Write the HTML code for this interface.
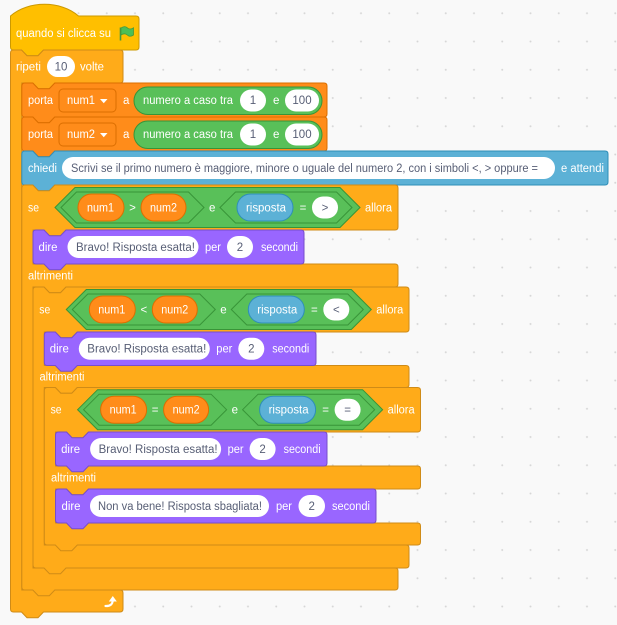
<!DOCTYPE html>
<html>
<head>
<meta charset="utf-8">
<style>
  html,body{margin:0;padding:0;background:#F9F9F9;}
  svg{display:block;}
  text{font-family:"Liberation Sans",Arial,sans-serif;font-size:11.5px;}
  .w{fill:#ffffff;}
  .g{fill:#575E75;}
  .ctl{fill:#FFAB19;stroke:#CF8B17;stroke-width:1;}
  .var{fill:#FF8C1A;stroke:#DB6E00;stroke-width:1;}
  .op{fill:#59C059;stroke:#389438;stroke-width:1;}
  .sen{fill:#5CB1D6;stroke:#2E8EB8;stroke-width:1;}
  .lk{fill:#9966FF;stroke:#774DCB;stroke-width:1;}
  .inp{fill:#ffffff;}
</style>
</head>
<body>
<svg width="617" height="625" viewBox="0 0 617 625" xmlns="http://www.w3.org/2000/svg">
  <defs>
    <pattern id="grid" x="0" y="0" width="28.25" height="28.25" patternUnits="userSpaceOnUse">
      <circle cx="22" cy="13.3" r="1" fill="#D6D6D6"/>
    </pattern>
  </defs>
  <rect x="0" y="0" width="617" height="625" fill="#F9F9F9"/>
  <rect x="0" y="0" width="617" height="625" fill="url(#grid)"/>

  <!-- HAT -->
  <path d="M10.5,16 C28.2,0.4 60.8,0.4 78.5,16 L136,16 Q139,16 139,19 L139,47 Q139,50 136,50 L43.5,50 L38,55.7 L27,55.7 L21.5,50 L13.5,50 Q10.5,50 10.5,47 Z" fill="#FFBF00" stroke="#CC9900" stroke-width="1"/>
  <text class="w" x="16" y="37" textLength="95" lengthAdjust="spacingAndGlyphs">quando si clicca su</text>
  <path d="M120.5,40.5 L120.5,27.5" stroke="#45993D" stroke-width="1.6" fill="none"/>
  <path d="M121,28 C123.5,26.3 125.8,26.3 127.3,27.8 C128.8,29.3 131.2,29.3 133.5,27.8 L133.5,35 C131.2,36.5 128.8,36.5 127.3,35 C125.8,33.5 123.5,33.5 121,35 Z" fill="#4CBF56" stroke="#45993D" stroke-width="0.8"/>

  <!-- REPEAT -->
  <path class="ctl" d="M10.5,53 Q10.5,50 13.5,50 L21.5,50 L27,55.7 L38,55.7 L43.5,50 L120,50 Q123,50 123,53 L123,80 Q123,83 120,83 L54.8,83 L49.3,88.7 L38.3,88.7 L32.8,83 L21.8,83 L21.8,590 L120,590 Q123,590 123,593 L123,609 Q123,612 120,612 L43.5,612 L38,617.7 L27,617.7 L21.5,612 L13.5,612 Q10.5,612 10.5,609 Z"/>
  <text class="w" x="16" y="70.5" textLength="25" lengthAdjust="spacingAndGlyphs">ripeti</text>
  <rect class="inp" x="47" y="56" width="28" height="21" rx="10.5"/>
  <text class="g" x="61" y="70.5" text-anchor="middle">10</text>
  <text class="w" x="80" y="70.5" textLength="24" lengthAdjust="spacingAndGlyphs">volte</text>
  <!-- loop arrow -->
  <path d="M105.5,606 Q112.5,606.5 112.8,600" fill="none" stroke="#ffffff" stroke-width="2.2" stroke-linecap="round"/>
  <path d="M108.8,601.5 L116.8,601.5 L112.8,596 Z" fill="#ffffff"/>

  <!-- PORTA 1 -->
  <path class="var" d="M21.8,86 Q21.8,83 24.8,83 L32.8,83 L38.3,88.7 L49.3,88.7 L54.8,83 L324,83 Q327,83 327,86 L327,114 Q327,117 324,117 L54.8,117 L49.3,122.7 L38.3,122.7 L32.8,117 L24.8,117 Q21.8,117 21.8,114 Z"/>
  <text class="w" x="28" y="104" textLength="25" lengthAdjust="spacingAndGlyphs">porta</text>
  <rect x="59" y="89" width="57" height="23" rx="4" fill="#FF8C1A" stroke="#DB6E00"/>
  <text class="w" x="67" y="104" textLength="28" lengthAdjust="spacingAndGlyphs">num1</text>
  <path d="M100,99 L107.5,99 L103.75,103.2 Z" fill="#ffffff"/>
  <text class="w" x="123" y="104">a</text>
  <rect class="op" x="134" y="87" width="188" height="27.5" rx="13.75"/>
  <text class="w" x="143" y="104" textLength="90" lengthAdjust="spacingAndGlyphs">numero a caso tra</text>
  <rect class="inp" x="240" y="89.5" width="26" height="22" rx="11"/>
  <text class="g" x="253" y="104" text-anchor="middle">1</text>
  <text class="w" x="273" y="104">e</text>
  <rect class="inp" x="285" y="89.5" width="34" height="22" rx="11"/>
  <text class="g" x="302" y="104" text-anchor="middle">100</text>

  <!-- PORTA 2 -->
  <path class="var" d="M21.8,120 Q21.8,117 24.8,117 L32.8,117 L38.3,122.7 L49.3,122.7 L54.8,117 L324,117 Q327,117 327,120 L327,148 Q327,151 324,151 L54.8,151 L49.3,156.7 L38.3,156.7 L32.8,151 L24.8,151 Q21.8,151 21.8,148 Z"/>
  <text class="w" x="28" y="138" textLength="25" lengthAdjust="spacingAndGlyphs">porta</text>
  <rect x="59" y="123" width="57" height="23" rx="4" fill="#FF8C1A" stroke="#DB6E00"/>
  <text class="w" x="67" y="138" textLength="28" lengthAdjust="spacingAndGlyphs">num2</text>
  <path d="M100,133 L107.5,133 L103.75,137.2 Z" fill="#ffffff"/>
  <text class="w" x="123" y="138">a</text>
  <rect class="op" x="134" y="121" width="188" height="27.5" rx="13.75"/>
  <text class="w" x="143" y="138" textLength="90" lengthAdjust="spacingAndGlyphs">numero a caso tra</text>
  <rect class="inp" x="240" y="123.5" width="26" height="22" rx="11"/>
  <text class="g" x="253" y="138" text-anchor="middle">1</text>
  <text class="w" x="273" y="138">e</text>
  <rect class="inp" x="285" y="123.5" width="34" height="22" rx="11"/>
  <text class="g" x="302" y="138" text-anchor="middle">100</text>

  <!-- CHIEDI -->
  <path class="sen" d="M21.8,154 Q21.8,151 24.8,151 L32.8,151 L38.3,156.7 L49.3,156.7 L54.8,151 L605,151 Q608,151 608,154 L608,182 Q608,185 605,185 L54.8,185 L49.3,190.7 L38.3,190.7 L32.8,185 L24.8,185 Q21.8,185 21.8,182 Z"/>
  <text class="w" x="28" y="172" textLength="29" lengthAdjust="spacingAndGlyphs">chiedi</text>
  <rect class="inp" x="62" y="157" width="493" height="22" rx="11"/>
  <text class="g" x="71" y="172" textLength="467" lengthAdjust="spacingAndGlyphs">Scrivi se il primo numero è maggiore, minore o uguale del numero 2, con i simboli &lt;, &gt; oppure =</text>
  <text class="w" x="561" y="172" textLength="43" lengthAdjust="spacingAndGlyphs">e attendi</text>

  <!-- SE 1 (if/else) -->
  <path class="ctl" d="M21.8,188 Q21.8,185 24.8,185 L32.8,185 L38.3,190.7 L49.3,190.7 L54.8,185 L395,185 Q398,185 398,188 L398,227 Q398,230 395,230 L66,230 L60.5,235.7 L49.5,235.7 L44,230 L33,230 L33,264 L395,264 Q398,264 398,267 L398,284 Q398,287 395,287 L66,287 L60.5,292.7 L49.5,292.7 L44,287 L33,287 L33,568 L395,568 Q398,568 398,571 L398,587 Q398,590 395,590 L54.8,590 L49.3,595.7 L38.3,595.7 L32.8,590 L24.8,590 Q21.8,590 21.8,587 Z"/>
  <g>
    <text class="w" x="28" y="211.5" textLength="11" lengthAdjust="spacingAndGlyphs">se</text>
    <path class="op" d="M55,207.5 L75,187.5 L340,187.5 L360,207.5 L340,227.5 L75,227.5 Z"/>
    <path class="op" d="M61,207.5 L76.5,192 L188.5,192 L204,207.5 L188.5,223 L76.5,223 Z"/>
    <rect class="var" x="78" y="194" width="46" height="27" rx="13.5"/>
    <text class="w" x="87" y="211.5" textLength="27" lengthAdjust="spacingAndGlyphs">num1</text>
    <text class="w" x="132.5" y="211.5" text-anchor="middle">&gt;</text>
    <rect class="var" x="141" y="194" width="45" height="27" rx="13.5"/>
    <text class="w" x="150" y="211.5" textLength="27" lengthAdjust="spacingAndGlyphs">num2</text>
    <text class="w" x="209" y="211.5">e</text>
    <path class="op" d="M220,207.5 L235.5,192 L336.5,192 L352,207.5 L336.5,223 L235.5,223 Z"/>
    <rect class="sen" x="237" y="194" width="56" height="27" rx="13.5"/>
    <text class="w" x="246" y="211.5" textLength="40" lengthAdjust="spacingAndGlyphs">risposta</text>
    <text class="w" x="303" y="211.5" text-anchor="middle">=</text>
    <rect class="inp" x="312" y="196.5" width="26" height="22" rx="11"/>
    <text class="g" x="325" y="211.5" text-anchor="middle">&gt;</text>
    <text class="w" x="365" y="211.5" textLength="27" lengthAdjust="spacingAndGlyphs">allora</text>
  </g>
  <text class="w" x="28" y="279.5" textLength="45" lengthAdjust="spacingAndGlyphs">altrimenti</text>

  <!-- DIRE 1 -->
  <path class="lk" d="M33,233 Q33,230 36,230 L44,230 L49.5,235.7 L60.5,235.7 L66,230 L301,230 Q304,230 304,233 L304,261 Q304,264 301,264 L66,264 L60.5,269.7 L49.5,269.7 L44,264 L36,264 Q33,264 33,261 Z"/>
  <g>
    <text class="w" x="38.5" y="251" textLength="19" lengthAdjust="spacingAndGlyphs">dire</text>
    <rect class="inp" x="67.5" y="236" width="131" height="22" rx="11"/>
    <text class="g" x="76" y="251" textLength="119" lengthAdjust="spacingAndGlyphs">Bravo! Risposta esatta!</text>
    <text class="w" x="205" y="251" textLength="16" lengthAdjust="spacingAndGlyphs">per</text>
    <rect class="inp" x="227" y="236" width="26" height="22" rx="11"/>
    <text class="g" x="240" y="251" text-anchor="middle">2</text>
    <text class="w" x="261" y="251" textLength="37" lengthAdjust="spacingAndGlyphs">secondi</text>
  </g>

  <!-- SE 2 -->
  <path class="ctl" d="M33,290 Q33,287 36,287 L44,287 L49.5,292.7 L60.5,292.7 L66,287 L406,287 Q409,287 409,290 L409,329 Q409,332 406,332 L77.3,332 L71.8,337.7 L60.8,337.7 L55.3,332 L44.3,332 L44.3,365.5 L406,365.5 Q409,365.5 409,368.5 L409,384.5 Q409,387.5 406,387.5 L77.3,387.5 L71.8,393.2 L60.8,393.2 L55.3,387.5 L44.3,387.5 L44.3,545 L406,545 Q409,545 409,548 L409,565 Q409,568 406,568 L66,568 L60.5,573.7 L49.5,573.7 L44,568 L36,568 Q33,568 33,565 Z"/>
  <g transform="translate(11.3,102)">
    <text class="w" x="28" y="211.5" textLength="11" lengthAdjust="spacingAndGlyphs">se</text>
    <path class="op" d="M55,207.5 L75,187.5 L340,187.5 L360,207.5 L340,227.5 L75,227.5 Z"/>
    <path class="op" d="M61,207.5 L76.5,192 L188.5,192 L204,207.5 L188.5,223 L76.5,223 Z"/>
    <rect class="var" x="78" y="194" width="46" height="27" rx="13.5"/>
    <text class="w" x="87" y="211.5" textLength="27" lengthAdjust="spacingAndGlyphs">num1</text>
    <text class="w" x="132.5" y="211.5" text-anchor="middle">&lt;</text>
    <rect class="var" x="141" y="194" width="45" height="27" rx="13.5"/>
    <text class="w" x="150" y="211.5" textLength="27" lengthAdjust="spacingAndGlyphs">num2</text>
    <text class="w" x="209" y="211.5">e</text>
    <path class="op" d="M220,207.5 L235.5,192 L336.5,192 L352,207.5 L336.5,223 L235.5,223 Z"/>
    <rect class="sen" x="237" y="194" width="56" height="27" rx="13.5"/>
    <text class="w" x="246" y="211.5" textLength="40" lengthAdjust="spacingAndGlyphs">risposta</text>
    <text class="w" x="303" y="211.5" text-anchor="middle">=</text>
    <rect class="inp" x="312" y="196.5" width="26" height="22" rx="11"/>
    <text class="g" x="325" y="211.5" text-anchor="middle">&lt;</text>
    <text class="w" x="365" y="211.5" textLength="27" lengthAdjust="spacingAndGlyphs">allora</text>
  </g>
  <text class="w" x="39.5" y="380.5" textLength="45" lengthAdjust="spacingAndGlyphs">altrimenti</text>

  <!-- DIRE 2 -->
  <path class="lk" d="M44.3,335 Q44.3,332 47.3,332 L55.3,332 L60.8,337.7 L71.8,337.7 L77.3,332 L313,332 Q316,332 316,335 L316,362.5 Q316,365.5 313,365.5 L77.3,365.5 L71.8,371.2 L60.8,371.2 L55.3,365.5 L47.3,365.5 Q44.3,365.5 44.3,362.5 Z"/>
  <g transform="translate(11.3,101.7)">
    <text class="w" x="38.5" y="251" textLength="19" lengthAdjust="spacingAndGlyphs">dire</text>
    <rect class="inp" x="67.5" y="236" width="131" height="22" rx="11"/>
    <text class="g" x="76" y="251" textLength="119" lengthAdjust="spacingAndGlyphs">Bravo! Risposta esatta!</text>
    <text class="w" x="205" y="251" textLength="16" lengthAdjust="spacingAndGlyphs">per</text>
    <rect class="inp" x="227" y="236" width="26" height="22" rx="11"/>
    <text class="g" x="240" y="251" text-anchor="middle">2</text>
    <text class="w" x="261" y="251" textLength="37" lengthAdjust="spacingAndGlyphs">secondi</text>
  </g>

  <!-- SE 3 -->
  <path class="ctl" d="M44.3,390.5 Q44.3,387.5 47.3,387.5 L55.3,387.5 L60.8,393.2 L71.8,393.2 L77.3,387.5 L417.5,387.5 Q420.5,387.5 420.5,390.5 L420.5,429 Q420.5,432 417.5,432 L88.5,432 L83,437.7 L72,437.7 L66.5,432 L55.5,432 L55.5,466 L417.5,466 Q420.5,466 420.5,469 L420.5,486 Q420.5,489 417.5,489 L88.5,489 L83,494.7 L72,494.7 L66.5,489 L55.5,489 L55.5,523 L417.5,523 Q420.5,523 420.5,526 L420.5,542 Q420.5,545 417.5,545 L77.3,545 L71.8,550.7 L60.8,550.7 L55.3,545 L47.3,545 Q44.3,545 44.3,542 Z"/>
  <g transform="translate(22.6,202.2)">
    <text class="w" x="28" y="211.5" textLength="11" lengthAdjust="spacingAndGlyphs">se</text>
    <path class="op" d="M55,207.5 L75,187.5 L340,187.5 L360,207.5 L340,227.5 L75,227.5 Z"/>
    <path class="op" d="M61,207.5 L76.5,192 L188.5,192 L204,207.5 L188.5,223 L76.5,223 Z"/>
    <rect class="var" x="78" y="194" width="46" height="27" rx="13.5"/>
    <text class="w" x="87" y="211.5" textLength="27" lengthAdjust="spacingAndGlyphs">num1</text>
    <text class="w" x="132.5" y="211.5" text-anchor="middle">=</text>
    <rect class="var" x="141" y="194" width="45" height="27" rx="13.5"/>
    <text class="w" x="150" y="211.5" textLength="27" lengthAdjust="spacingAndGlyphs">num2</text>
    <text class="w" x="209" y="211.5">e</text>
    <path class="op" d="M220,207.5 L235.5,192 L336.5,192 L352,207.5 L336.5,223 L235.5,223 Z"/>
    <rect class="sen" x="237" y="194" width="56" height="27" rx="13.5"/>
    <text class="w" x="246" y="211.5" textLength="40" lengthAdjust="spacingAndGlyphs">risposta</text>
    <text class="w" x="303" y="211.5" text-anchor="middle">=</text>
    <rect class="inp" x="312" y="196.5" width="26" height="22" rx="11"/>
    <text class="g" x="325" y="211.5" text-anchor="middle">=</text>
    <text class="w" x="365" y="211.5" textLength="27" lengthAdjust="spacingAndGlyphs">allora</text>
  </g>
  <text class="w" x="51" y="481.5" textLength="45" lengthAdjust="spacingAndGlyphs">altrimenti</text>

  <!-- DIRE 3 -->
  <path class="lk" d="M55.5,435 Q55.5,432 58.5,432 L66.5,432 L72,437.7 L83,437.7 L88.5,432 L324,432 Q327,432 327,435 L327,463 Q327,466 324,466 L88.5,466 L83,471.7 L72,471.7 L66.5,466 L58.5,466 Q55.5,466 55.5,463 Z"/>
  <g transform="translate(22.6,202)">
    <text class="w" x="38.5" y="251" textLength="19" lengthAdjust="spacingAndGlyphs">dire</text>
    <rect class="inp" x="67.5" y="236" width="131" height="22" rx="11"/>
    <text class="g" x="76" y="251" textLength="119" lengthAdjust="spacingAndGlyphs">Bravo! Risposta esatta!</text>
    <text class="w" x="205" y="251" textLength="16" lengthAdjust="spacingAndGlyphs">per</text>
    <rect class="inp" x="227" y="236" width="26" height="22" rx="11"/>
    <text class="g" x="240" y="251" text-anchor="middle">2</text>
    <text class="w" x="261" y="251" textLength="37" lengthAdjust="spacingAndGlyphs">secondi</text>
  </g>

  <!-- DIRE 4 -->
  <path class="lk" d="M55.5,492 Q55.5,489 58.5,489 L66.5,489 L72,494.7 L83,494.7 L88.5,489 L373,489 Q376,489 376,492 L376,520 Q376,523 373,523 L88.5,523 L83,528.7 L72,528.7 L66.5,523 L58.5,523 Q55.5,523 55.5,520 Z"/>
  <text class="w" x="61.5" y="510" textLength="19" lengthAdjust="spacingAndGlyphs">dire</text>
  <rect class="inp" x="90" y="495" width="179" height="22" rx="11"/>
  <text class="g" x="98" y="510" textLength="164" lengthAdjust="spacingAndGlyphs">Non va bene! Risposta sbagliata!</text>
  <text class="w" x="276" y="510" textLength="16" lengthAdjust="spacingAndGlyphs">per</text>
  <rect class="inp" x="298.5" y="495" width="26.5" height="22" rx="11"/>
  <text class="g" x="311.7" y="510" text-anchor="middle">2</text>
  <text class="w" x="332" y="510" textLength="38" lengthAdjust="spacingAndGlyphs">secondi</text>
</svg>
</body>
</html>
